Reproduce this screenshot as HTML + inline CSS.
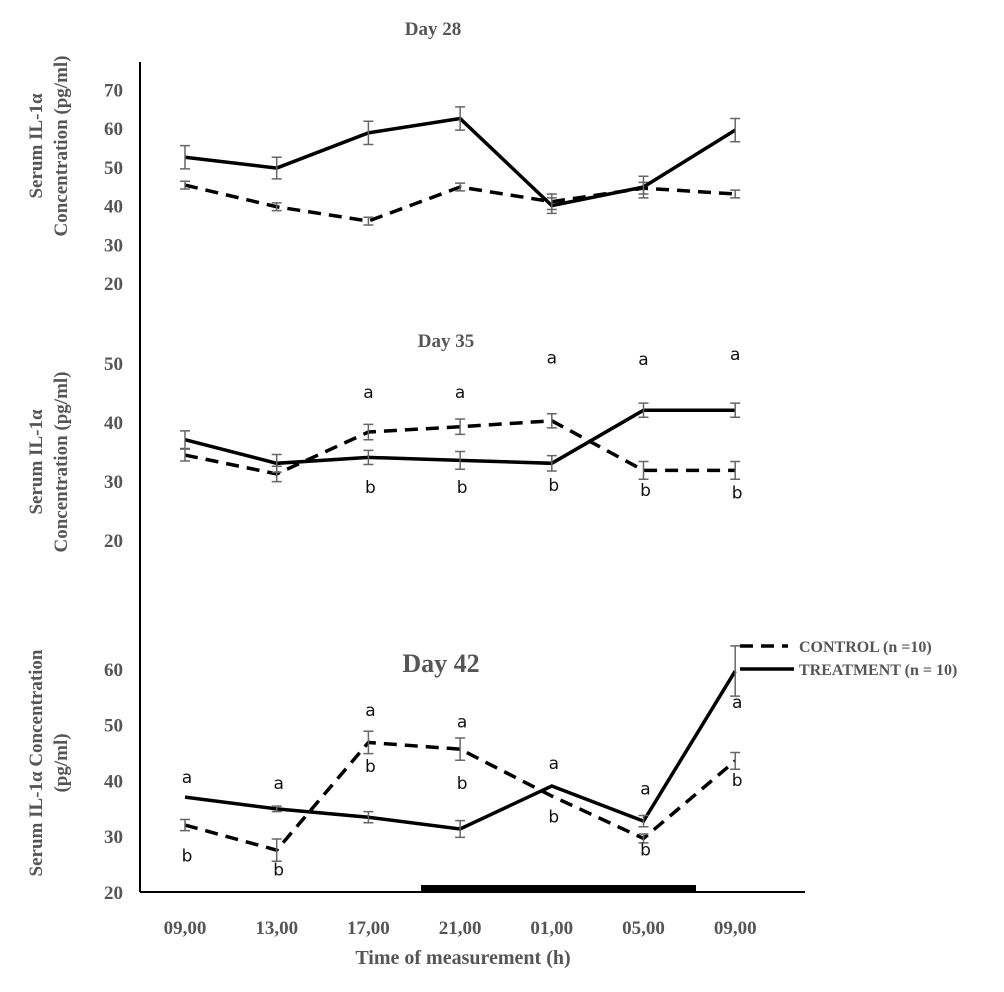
<!DOCTYPE html>
<html><head><meta charset="utf-8"><style>
body{margin:0;background:#fff}
svg{display:block}
text{font-family:"Liberation Serif",serif}
.tk{font-size:19px;font-weight:bold;fill:#555}
.lt{font-family:"DejaVu Sans","Liberation Sans",sans-serif;font-size:17px;fill:#111}
</style></head><body>
<svg id="c" width="1004" height="992" viewBox="0 0 1004 992">
<line x1="140" y1="62" x2="140" y2="892" stroke="#000" stroke-width="2"/>
<line x1="140" y1="892" x2="805" y2="892" stroke="#000" stroke-width="2"/>
<rect x="421" y="885" width="275" height="8" fill="#000"/>
<text x="433" y="35" text-anchor="middle" font-size="19" font-weight="bold" fill="#555">Day 28</text>
<text x="446" y="347" text-anchor="middle" font-size="19" font-weight="bold" fill="#555">Day 35</text>
<text x="441" y="672" text-anchor="middle" font-size="26" font-weight="bold" fill="#555">Day 42</text>
<g font-size="19" font-weight="bold" fill="#555" text-anchor="middle">
<text transform="translate(42,146) rotate(-90)">Serum IL-1α</text>
<text transform="translate(67,146) rotate(-90)">Concentration (pg/ml)</text>
<text transform="translate(42,462) rotate(-90)">Serum IL-1α</text>
<text transform="translate(67,462) rotate(-90)">Concentration (pg/ml)</text>
<text transform="translate(42,763) rotate(-90)">Serum IL-1α Concentration</text>
<text transform="translate(67,763) rotate(-90)">(pg/ml)</text>
</g>
<text x="463" y="964" text-anchor="middle" font-size="20" font-weight="bold" fill="#555">Time of measurement (h)</text>
<line x1="740" y1="646" x2="788" y2="646" stroke="#000" stroke-width="3.5" stroke-dasharray="13,8"/>
<text x="799" y="652" font-size="16" font-weight="bold" fill="#555">CONTROL (n =10)</text>
<line x1="740" y1="669" x2="794" y2="669" stroke="#000" stroke-width="3.5"/>
<text x="799" y="675" font-size="16" font-weight="bold" fill="#555">TREATMENT (n = 10)</text>
</svg>
<script>
const categories=["09,00","13,00","17,00","21,00","01,00","05,00","09,00"];
const d28Ticks=[20,30,40,50,60,70];
const d28Treat=[52.5,49.7,58.8,62.5,40,44.8,59.5];
const d28TreatErr=[3,2.8,3,3,2,2.8,3];
const d28Ctrl=[45.3,39.7,36,44.8,41,44.5,43];
const d28CtrlErr=[1,1,1,1,2,1.5,1];
const d35Ticks=[20,30,40,50];
const d35Treat=[37,33,34,33.5,33,42,42];
const d35TreatErr=[1.5,1.5,1.2,1.5,1.3,1.2,1.2];
const d35Ctrl=[34.4,31.2,38.3,39.2,40.2,31.8,31.8];
const d35CtrlErr=[1,1.3,1.3,1.3,1.2,1.5,1.5];
const d35Top=["","","a","a","a","a","a"];
const d35TopVal=[0,0,44.1,44.1,49.9,49.7,50.5];
const d35Bot=["","","b","b","b","b","b"];
const d35BotVal=[0,0,28,28,28.3,27.5,27];
const d42Ticks=[20,30,40,50,60];
const d42Treat=[37,34.9,33.4,31.3,39,32.7,59.6];
const d42TreatErr=[0,0.5,1,1.5,0,1,4.5];
const d42Ctrl=[32,27.5,46.8,45.6,37.2,29.6,43.5];
const d42CtrlErr=[1,2,2,2,0,0.8,1.5];
const d42Top=["a","a","a","a","a","a","a"];
const d42TopVal=[39.5,38.5,51.5,49.5,42,37.5,53];
const d42Bot=["b","b","b","b","b","b","b"];
const d42BotVal=[25.5,23,41.5,38.5,32.5,26.5,39];

const svg=document.getElementById('c');
const NS='http://www.w3.org/2000/svg';
const xPos=i=>185+i*91.7;
function mk(tag,attrs){const e=document.createElementNS(NS,tag);for(const k in attrs)e.setAttribute(k,attrs[k]);svg.appendChild(e);return e;}
function panel(name,y0,v0,pxPer10,ticks,treat,tErr,ctrl,cErr){
  const y=v=>y0-(v-v0)*pxPer10/10;
  ticks.forEach(t=>{const e=mk('text',{x:123,y:y(t)+7,'text-anchor':'end',class:'tk'});e.textContent=t;
    
    });
  [[ctrl,cErr,'control','13,8'],[treat,tErr,'treatment','']].forEach(([vals,err,s,dash])=>{
    const p=mk('polyline',{points:vals.map((v,i)=>xPos(i)+','+y(v)).join(' '),fill:'none',stroke:'#000','stroke-width':3.5,'stroke-dasharray':dash||'none'});
    
    
    vals.forEach((v,i)=>{if(!err[i])return;const x=xPos(i),a=y(v+err[i]),b=y(v-err[i]);
      const g=mk('path',{d:`M${x},${a}V${b}M${x-5},${a}H${x+5}M${x-5},${b}H${x+5}`,stroke:'#666','stroke-width':1.5,fill:'none'});
      
      });
  });
  return y;
}
panel('day28',283,20,38.7,d28Ticks,d28Treat,d28TreatErr,d28Ctrl,d28CtrlErr);
const y35=panel('day35',540,20,59,d35Ticks,d35Treat,d35TreatErr,d35Ctrl,d35CtrlErr);
const y42=panel('day42',892,20,55.8,d42Ticks,d42Treat,d42TreatErr,d42Ctrl,d42CtrlErr);
function letter(txt,x,yy,nm){if(!txt)return;const e=mk('text',{x:x,y:yy,'text-anchor':'middle',class:'lt'});e.textContent=txt;
  
  }
categories.forEach((c,i)=>{
  letter(d35Top[i],xPos(i),y35(d35TopVal[i]),'day35-letter-a');
  letter(d35Bot[i],xPos(i)+2,y35(d35BotVal[i]),'day35-letter-b');
  letter(d42Top[i],xPos(i)+2,y42(d42TopVal[i]),'day42-letter-a');
  letter(d42Bot[i],xPos(i)+2,y42(d42BotVal[i]),'day42-letter-b');
  const e=mk('text',{x:xPos(i),y:934,'text-anchor':'middle',class:'tk'});e.textContent=c;
  
  
});
</script>
</body></html>
